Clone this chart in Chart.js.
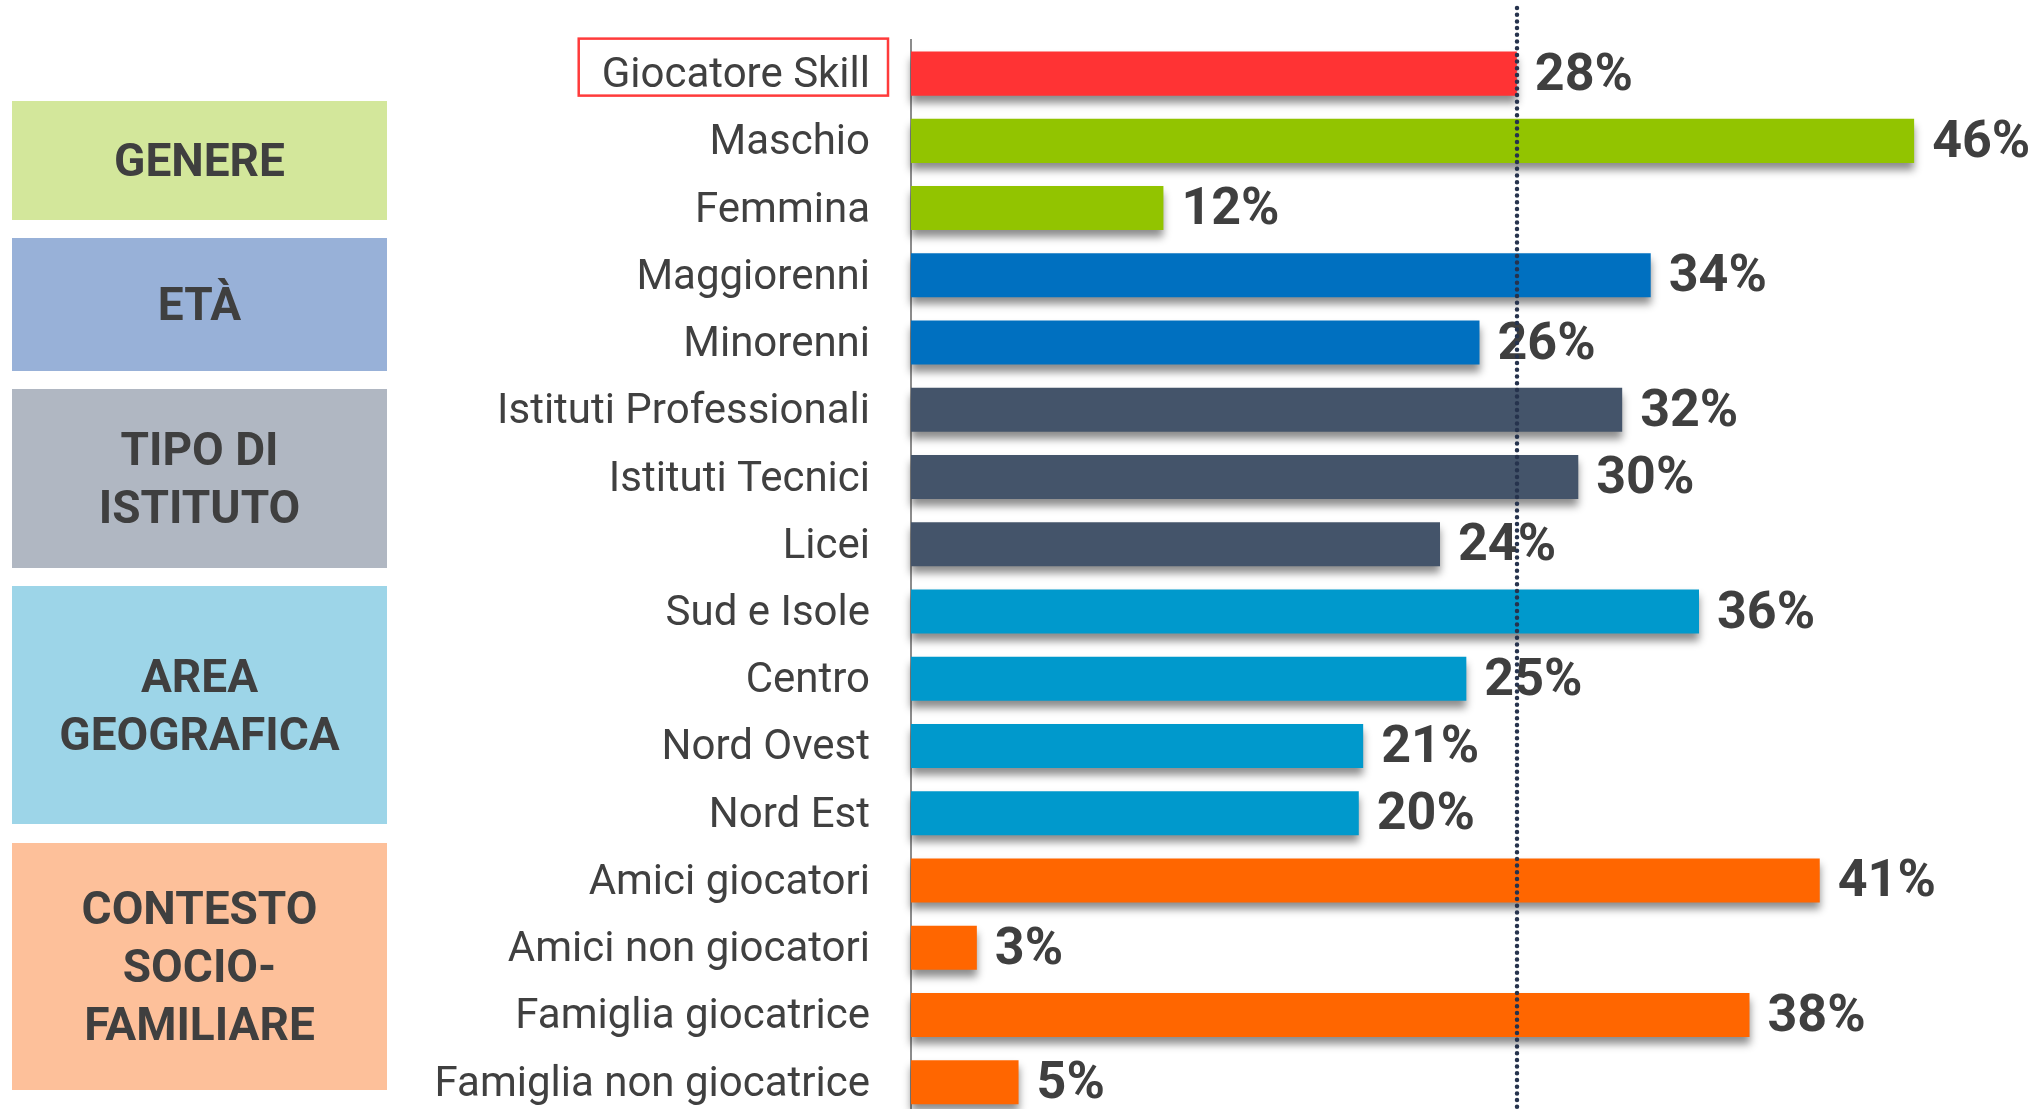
<!DOCTYPE html>
<html><head><meta charset="utf-8">
<script src="https://cdn.jsdelivr.net/npm/chart.js@4.4.0/dist/chart.umd.min.js"></script>
<style>html,body{margin:0;padding:0;overflow:hidden;background:#fff}canvas{display:block}</style>
</head><body>
<canvas id="c" width="2041" height="1141"></canvas>
<script>
// ---------- DATA ----------
const categories = ['Giocatore Skill','Maschio','Femmina','Maggiorenni','Minorenni','Istituti Professionali','Istituti Tecnici','Licei','Sud e Isole','Centro','Nord Ovest','Nord Est','Amici giocatori','Amici non giocatori','Famiglia giocatrice','Famiglia non giocatrice'];
// values (labels show them rounded)
const values = [27.6,45.7,11.5,33.7,25.9,32.4,30.4,24.1,35.9,25.3,20.6,20.4,41.4,3.0,38.2,4.9];
const categoryGroup = [0,1,1,2,2,3,3,3,4,4,4,4,5,5,5,5];
const groupBarColors = ['#FF3334','#92C400','#0070C0','#44546A','#0099CC','#FF6600'];
const groupLabels = [null,['GENERE'],['ETÀ'],['TIPO DI','ISTITUTO'],['AREA','GEOGRAFICA'],['CONTESTO','SOCIO-','FAMILIARE']];
const groupBoxColors = [null,'#D3E79B','#98B1D8','#B0B7C2','#9DD5E8','#FDC09A'];
const referenceValue = values[0];
const highlightIndex = 0;

// ---------- LAYOUT (decorative boxes, px) ----------
const BOX_LAYOUT = [null,[12,101,375,119],[12,238,375,133],[12,389,375,179],[12,586,375,238],[12,843,375,247]];
const TEXT_COLOR = '#3F3F3F';

const decorPlugin = {
  id: 'decor',
  beforeDatasetsDraw(chart) {
    const ctx = chart.ctx;
    ctx.save();
    ctx.shadowColor = 'rgba(0,0,0,0.45)';
    ctx.shadowBlur = 8;
    ctx.shadowOffsetX = 0;
    ctx.shadowOffsetY = 7;
  },
  afterDatasetsDraw(chart) {
    const ctx = chart.ctx;
    ctx.restore();
    const meta = chart.getDatasetMeta(0);
    ctx.save();
    ctx.font = 'bold 52px Roboto';
    ctx.fillStyle = TEXT_COLOR;
    ctx.textAlign = 'left';
    ctx.textBaseline = 'middle';
    meta.data.forEach((bar, i) => {
      ctx.fillText(Math.round(values[i]) + '%', bar.x + 18, bar.y + 3);
    });
    ctx.restore();
    const xs = chart.scales.x;
    const xr = Math.round(xs.getPixelForValue(referenceValue));
    ctx.save();
    ctx.strokeStyle = '#26334D';
    ctx.lineWidth = 4.5;
    ctx.lineCap = 'round';
    ctx.setLineDash([0, 6.7]);
    ctx.beginPath();
    ctx.moveTo(xr, 8);
    ctx.lineTo(xr, chart.height);
    ctx.stroke();
    ctx.restore();
  },
  afterDraw(chart) {
    const ctx = chart.ctx;
    const ys = chart.scales.y;
    ctx.save();
    ctx.font = '42px Roboto';
    const w = ctx.measureText(categories[highlightIndex]).width;
    const right = ys.right - ys.options.grid.tickLength;
    const yc = ys.getPixelForValue(highlightIndex);
    ctx.strokeStyle = '#FF3B3B';
    ctx.lineWidth = 2.5;
    ctx.strokeRect(right - w - 23, yc - 35, w + 41, 57);
    ctx.restore();
    ctx.save();
    ctx.font = 'bold 46px Roboto';
    ctx.textAlign = 'center';
    ctx.textBaseline = 'middle';
    for (let g = 1; g < groupLabels.length; g++) {
      const [bx, by, bw, bh] = BOX_LAYOUT[g];
      ctx.fillStyle = groupBoxColors[g];
      ctx.fillRect(bx, by, bw, bh);
      ctx.fillStyle = TEXT_COLOR;
      const lines = groupLabels[g];
      const lh = 58;
      const cy = by + bh / 2;
      lines.forEach((t, k) => {
        ctx.fillText(t, bx + bw / 2, cy + (k - (lines.length - 1) / 2) * lh + 4);
      });
    }
    ctx.restore();
  }
};

function build() {
  new Chart(document.getElementById('c'), {
    type: 'bar',
    data: {
      labels: categories,
      datasets: [{
        data: values,
        backgroundColor: categoryGroup.map(g => groupBarColors[g]),
        borderWidth: 0,
        barPercentage: 0.655,
        categoryPercentage: 1,
        clip: false
      }]
    },
    options: {
      indexAxis: 'y',
      responsive: false,
      animation: false,
      devicePixelRatio: 1,
      layout: { padding: { top: 40, bottom: 0, left: 0, right: 0 } },
      plugins: { legend: { display: false }, tooltip: { enabled: false } },
      scales: {
        x: { display: false, min: 0, max: 51.48 },
        y: {
          grid: { display: false, drawTicks: true, tickLength: 41, tickColor: 'rgba(0,0,0,0)' },
          border: { display: true, color: '#8C8C8C', width: 2 },
          ticks: { font: { family: 'Roboto', size: 42 }, color: '#404040', padding: 0, labelOffset: 3, autoSkip: false },
          afterFit(s) { s.width = 911; }
        }
      }
    },
    plugins: [decorPlugin]
  });
}
Promise.all([document.fonts.load('42px Roboto'), document.fonts.load('bold 52px Roboto')]).then(build, build);
</script>
</body></html>
